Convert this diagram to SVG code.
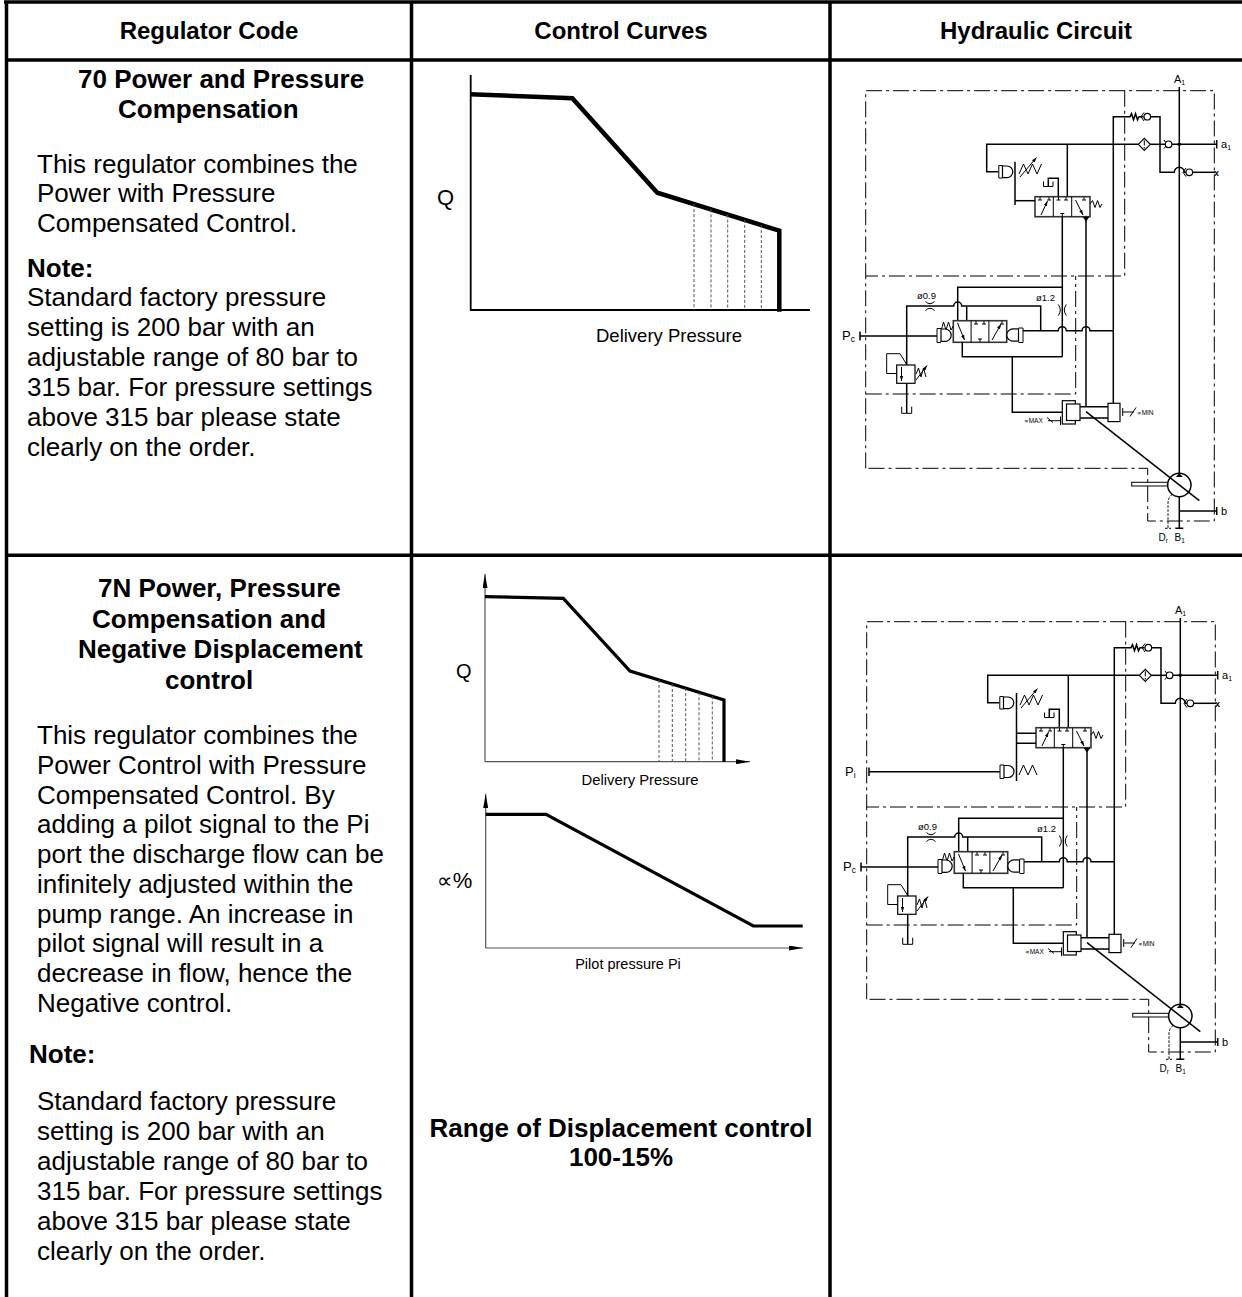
<svg xmlns="http://www.w3.org/2000/svg" width="1242" height="1297" viewBox="0 0 1242 1297">
<style>
text{font-family:"Liberation Sans",Arial,"DejaVu Sans",sans-serif;fill:#000}
.hd{font-size:24px;font-weight:bold;text-anchor:middle}
.tt{font-size:26px;font-weight:bold}
.bd{font-size:26px}
.tb{stroke:#000;stroke-width:3.5;fill:none}
.ax{stroke:#000;stroke-width:1.8;fill:none}
.ax2{stroke:#555;stroke-width:1.2;fill:none}
.cv{stroke:#000;stroke-width:4.5;fill:none}
.cv2{stroke:#000;stroke-width:3.2;fill:none}
.dsh{stroke:#555;stroke-width:1;stroke-dasharray:3 2;fill:none}
.ln{stroke:#000;stroke-width:1.5;fill:none}
.th{stroke:#000;stroke-width:1;fill:none}
.dd{stroke:#000;stroke-width:1;stroke-dasharray:16 4 3 4;fill:none}
.vb{stroke:#333;stroke-width:1.6;fill:#fff}
.wf{stroke:#000;stroke-width:1.2;fill:#fff}
.bk{fill:#000;stroke:none}
.sm{font-size:11px}
.xs{font-size:6.5px}
.lab{font-size:9.5px}
</style>
<defs>
<marker id="arr" viewBox="0 0 14 5" markerWidth="14" markerHeight="5" refX="14" refY="2.5" orient="auto" markerUnits="userSpaceOnUse"><path d="M0,0 L14,2.5 L0,5 Z" fill="#000"/></marker>
<marker id="sa" viewBox="0 0 6 4" markerWidth="5" markerHeight="3.5" refX="6" refY="2" orient="auto" markerUnits="userSpaceOnUse"><path d="M0,0 L6,2 L0,4 Z" fill="#000"/></marker>
<g id="hyd">
 <!-- dash-dot housings -->
 <path class="dd" d="M865.7,468.3 V90.7 H1214.3 V521 H1147.7 V468.3 Z"/>
 <path class="dd" d="M1124.7,90.7 V276 H865.7"/>
 <path class="dd" d="M865.7,394 H1075.7 V276"/>
 <!-- main A1 line -->
 <path class="ln" d="M1179.3,87 V473"/>
 <text class="sm" x="1174" y="83">A<tspan font-size="7" dy="2">1</tspan></text>
 <!-- top check line -->
 <path class="ln" d="M1113.3,403 V116.7 H1130 l1.5,-3 l2,6 l2,-6 l2,6 l1.5,-3 H1143.5"/>
 <path class="th" d="M1144,112.5 L1141,116.7 L1144,121"/>
 <circle class="wf" cx="1147.3" cy="116.7" r="3.3"/>
 <path class="ln" d="M1150.6,116.7 H1160 V172.3 H1174.3 a5,5 0 0 1 10,0 H1186"/>
 <path class="th" d="M1186,168 L1183,172.3 L1186,176.6"/>
 <circle class="wf" cx="1189.3" cy="172.3" r="3.3"/>
 <path class="ln" d="M1192.6,172.3 H1215"/>
 <text x="1214" y="175.5" font-size="9" font-weight="bold">x</text>
 <!-- a1 line -->
 <path class="ln" d="M998.3,171.7 H986.7 V144.3 H1138.3"/>
 <polygon class="wf" points="1138.3,144.3 1144.3,138.3 1150.3,144.3 1144.3,150.3"/>
 <path class="th" d="M1144.3,140.3 V145.5"/>
 <circle class="bk" cx="1144.3" cy="147.7" r="0.8"/>
 <path class="ln" d="M1150.3,144.3 H1165.3"/>
 <path class="th" d="M1164,140 L1167,144.3 L1164,148.6"/>
 <circle class="wf" cx="1168.6" cy="144.3" r="3.3"/>
 <path class="ln" d="M1171.9,144.3 H1216.7 M1216.7,140 V148.6"/>
 <circle class="bk" cx="1179.3" cy="144.3" r="1.8"/>
 <text class="sm" x="1221" y="148">a<tspan font-size="7" dy="2">1</tspan></text>
 <!-- upper piston -->
 <path class="th" d="M1002.5,165.5 H998.8 V178 H1002.5"/>
 <path class="wf" d="M1002.5,166 H1007 A5.8,5.8 0 0 1 1007,177.6 H1002.5 Z"/>
 <polyline class="th" points="1019,174 1023.5,164 1028,174 1032.5,164 1037,174 1041.5,164"/>
 <path class="th" d="M1020,177 L1036.5,157.5" marker-end="url(#sa)"/>
 <!-- tank on valve -->
 <path class="ln" d="M1058.3,196.7 V178.3 H1048.3 V186.3"/>
 <path class="th" d="M1043.5,181.5 V186.5 H1053 V181.5"/>
 <path class="ln" d="M1067.3,144.3 V196.7"/>
 <!-- upper valve -->
 <rect class="vb" x="1035" y="196.7" width="55" height="20"/>
 <path class="th" stroke="#333" d="M1053.3,196.7 V216.7 M1071.7,196.7 V216.7"/>
 <path class="th" d="M1040,197 V200 M1038,200 H1042 M1049,197 V200 M1047,200 H1051 M1058.5,197 V200 M1056.5,200 H1060.5 M1066,197 V200 M1064,200 H1068 M1062.3,216.5 V213.5 M1060.3,213.5 H1064.3 M1084,197 V200 M1082,200 H1086"/>
 <path class="th" d="M1041,215 L1047.5,201" marker-end="url(#sa)"/>
 <path class="th" d="M1075.5,200 L1083,215" marker-end="url(#sa)"/>
 <polyline class="th" points="1090,204 1092.5,200.5 1095,207.5 1097.5,200.5 1100,207.5 1102,204"/>
 <!-- verticals below upper valve -->
 <path class="ln" d="M1062.3,216.7 V356.7 M1086,216.7 V406.7"/>
 <polygon class="bk" points="1082.5,216.7 1089.5,216.7 1086,221.5"/>
 <!-- middle section -->
 <path class="ln" d="M957.7,320.7 V287.3 H1062.3"/>
 <path class="ln" d="M906.7,365 V306 H953.7 a4,4 0 0 1 8,0 H1040.7 V330.7"/>
 <path class="th" d="M925.5,301.5 Q930,306 934.5,301.5 M925.5,310.5 Q930,306 934.5,310.5"/>
 <text class="lab" x="917" y="299">ø0.9</text>
 <path class="ln" d="M966.7,306 V320.7"/>
 <rect class="vb" x="953.3" y="320.7" width="53.4" height="21.6"/>
 <path class="th" stroke="#333" d="M971.1,320.7 V342.3 M988.9,320.7 V342.3"/>
 <path class="th" d="M976,321 V324 M974,324 H978 M984,321 V324 M982,324 H986 M980,342 V339 M978,339 H982 M1002,321 V324 M1000,324 H1004"/>
 <path class="th" d="M957.5,323 L964.5,340" marker-end="url(#sa)"/>
 <path class="th" d="M992,340 L1001,324" marker-end="url(#sa)"/>
 <polyline class="th" points="941.5,329 943.5,322 946,330 948.5,322 951,330 953.3,326"/>
 <path class="th" d="M941,328.5 H937 V342.5 H941"/>
 <path class="wf" d="M941,329 H945 A6.2,6.2 0 0 1 945,341.4 H941 Z"/>
 <path class="ln" d="M860,336 H937 M860,331.5 V340.5"/>
 <text x="842" y="340" font-size="13">P<tspan font-size="8.5" dy="2">c</tspan></text>
 <path class="th" d="M1018.5,328 H1023 V342.5 H1018.5"/>
 <path class="wf" d="M1018.5,328.8 H1013 A6.2,6.2 0 0 0 1013,341.2 H1018.5 Z"/>
 <path class="ln" d="M1023,330.7 H1058.3 a4,4 0 0 1 8,0 H1082 a4,4 0 0 1 8,0 H1113.3"/>
 <path class="th" d="M1058.3,304.5 Q1062.3,310 1058.3,315.5 M1066.3,304.5 Q1062.3,310 1066.3,315.5"/>
 <text class="lab" x="1036" y="301">ø1.2</text>
 <path class="ln" d="M962.3,342.3 V356.7 H1062.3 M1012.3,356.7 V412.3 H1062.3"/>
 <!-- relief valve -->
 <path class="ln" d="M906.7,383.3 V413.3"/>
 <rect class="wf" x="896.7" y="365" width="18.3" height="18.3"/>
 <path class="th" d="M901.5,367 V381" marker-end="url(#sa)"/>
 <path class="th" d="M896.7,373.5 H886.7 V353.7 H900 L907,365"/>
 <polyline class="th" points="916,374 918.5,368 921,377 923.5,368 926,377"/>
 <path class="th" d="M916,380 L927,365.5" marker-end="url(#sa)"/>
 <path class="th" d="M901.7,406.7 V413.3 H911.7 V406.7"/>
 <!-- cylinder -->
 <rect class="wf" x="1062.3" y="400.7" width="13" height="23.3"/>
 <rect class="wf" x="1066.5" y="404" width="13.5" height="16.5"/>
 <path class="ln" d="M1080,406.7 H1108 M1080,418 H1108"/>
 <rect class="wf" x="1108" y="403.3" width="12" height="18.3"/>
 <path class="th" d="M1047,417.5 L1053,422.5 M1048,420.7 H1060.5 M1060.5,416.5 V425"/>
 <text class="xs" x="1024" y="423">∝MAX</text>
 <path class="th" d="M1122.7,408 V416 M1122.7,412 H1134 M1130,416.5 L1136,407.5"/>
 <text class="xs" x="1137" y="414.5">∝MIN</text>
 <path class="ln" d="M1086,411.7 L1199.3,500.7"/>
 <!-- pump -->
 <circle class="ln" cx="1179.3" cy="485" r="11.7"/>
 <polygon class="bk" points="1175.8,477 1182.8,477 1179.3,473.3"/>
 <rect class="th" x="1131.7" y="482.3" width="35.9" height="3.7" fill="#fff"/>
 <path class="ln" d="M1179.3,496.7 V528.3 M1175.3,528.3 H1183.3 M1179.3,511 H1216.7 M1216.7,507 V515"/>
 <text class="sm" x="1221" y="515">b</text>
 <path class="th" stroke-dasharray="2.5 1.5" d="M1172,494.5 Q1168,497.5 1168,503 V528.3 M1165,528.3 H1171"/>
 <text x="1158.5" y="541" font-size="10">D<tspan font-size="6.5" dy="2">r</tspan></text>
 <text x="1174.5" y="541" font-size="10">B<tspan font-size="6.5" dy="2">1</tspan></text>
</g>
</defs>

<!-- table -->
<g id="table">
 <path class="tb" d="M4,2 H1242 M6.5,0.5 V1297 M411.5,2 V1297 M830,2 V1297 M5,60 H1242 M5,555.3 H1242"/>
 <text class="hd" x="209" y="39">Regulator Code</text>
 <text class="hd" x="621" y="39">Control Curves</text>
 <text class="hd" x="1036" y="39">Hydraulic Circuit</text>
</g>

<!-- row 1 text -->
<g id="row1-text">
 <text class="tt" x="78" y="88">70 Power and Pressure</text>
 <text class="tt" x="118" y="118">Compensation</text>
 <text class="bd" x="37" y="172.5">This regulator combines the</text>
 <text class="bd" x="37" y="202">Power with Pressure</text>
 <text class="bd" x="37" y="232">Compensated Control.</text>
 <text class="tt" x="27" y="277">Note:</text>
 <text class="bd" x="27" y="306">Standard factory pressure</text>
 <text class="bd" x="27" y="336">setting is 200 bar with an</text>
 <text class="bd" x="27" y="366">adjustable range of 80 bar to</text>
 <text class="bd" x="27" y="396">315 bar.  For pressure settings</text>
 <text class="bd" x="27" y="426">above 315 bar please state</text>
 <text class="bd" x="27" y="456">clearly on the order.</text>
</g>

<!-- row 1 curve -->
<g id="curve1">
 <path class="ax" d="M470.7,75 V310 M470,310 H810"/>
 <path class="cv" d="M470,94.3 L572.3,98.3 L657.3,192.7 L779.3,230.7 L779.3,311.7"/>
 <path class="dsh" d="M694,204.1 V310 M711,209.4 V310 M727.7,214.6 V310 M744.7,219.9 V310 M761.3,225.1 V310"/>
 <text x="437" y="205" font-size="22">Q</text>
 <text x="669" y="342" font-size="18.5" text-anchor="middle">Delivery Pressure</text>
</g>

<!-- row 1 circuit -->
<g id="circuit1">
 <use href="#hyd"/>
 <path class="ln" stroke-width="2.5" d="M1015,161.7 V205"/>
 <path class="ln" d="M1015,200.7 H1035"/>
</g>

<!-- row 2 text -->
<g id="row2-text">
 <text class="tt" x="98" y="597">7N Power, Pressure</text>
 <text class="tt" x="92" y="627.5">Compensation and</text>
 <text class="tt" x="78" y="658">Negative Displacement</text>
 <text class="tt" x="165" y="688.5">control</text>
 <text class="bd" x="37" y="744">This regulator combines the</text>
 <text class="bd" x="37" y="773.8">Power Control with Pressure</text>
 <text class="bd" x="37" y="803.5">Compensated Control. By</text>
 <text class="bd" x="37" y="833.3">adding a pilot signal to the Pi</text>
 <text class="bd" x="37" y="863">port the discharge flow can be</text>
 <text class="bd" x="37" y="892.8">infinitely adjusted within the</text>
 <text class="bd" x="37" y="922.5">pump range. An increase in</text>
 <text class="bd" x="37" y="952.3">pilot signal will result in a</text>
 <text class="bd" x="37" y="982">decrease in flow, hence the</text>
 <text class="bd" x="37" y="1011.8">Negative control.</text>
 <text class="tt" x="29" y="1063">Note:</text>
 <text class="bd" x="37" y="1110">Standard factory pressure</text>
 <text class="bd" x="37" y="1140">setting is 200 bar with an</text>
 <text class="bd" x="37" y="1170">adjustable range of 80 bar to</text>
 <text class="bd" x="37" y="1200">315 bar.  For pressure settings</text>
 <text class="bd" x="37" y="1230">above 315 bar please state</text>
 <text class="bd" x="37" y="1260">clearly on the order.</text>
</g>

<!-- row 2 curves -->
<g id="curve2a">
 <path class="ax2" d="M485,761.7 V574" marker-end="url(#arr)"/>
 <path class="ax2" d="M485,761.7 H750" marker-end="url(#arr)"/>
 <path class="cv2" d="M485,596.7 L563.3,598.3 L630,671 L724,700 L724,761.7"/>
 <path class="dsh" d="M659,679.9 V761.7 M672.3,684 V761.7 M685.7,688.2 V761.7 M699,692.3 V761.7 M712.3,696.4 V761.7"/>
 <text x="456" y="678" font-size="20">Q</text>
 <text x="640" y="785" font-size="14.8" text-anchor="middle">Delivery Pressure</text>
</g>
<g id="curve2b">
 <path class="ax2" d="M485.7,948 V794" marker-end="url(#arr)"/>
 <path class="ax2" d="M485.7,948 H803" marker-end="url(#arr)"/>
 <path class="cv2" d="M485.7,814.3 L546,814.3 L753.3,926 L802.7,926"/>
 <text x="437" y="888" font-size="22">∝%</text>
 <text x="628" y="969" font-size="14.5" text-anchor="middle">Pilot pressure Pi</text>
</g>
<g id="range-note">
 <text class="tt" x="621" y="1137" text-anchor="middle">Range of Displacement control</text>
 <text class="tt" x="621" y="1166" text-anchor="middle">100-15%</text>
</g>

<!-- row 2 circuit -->
<g id="circuit2">
 <use href="#hyd" transform="translate(1,531)"/>
 <path class="ln" stroke-width="2.5" d="M1016.5,693 V781"/>
 <path class="ln" d="M1016.5,733.3 H1036 M1016.5,743.3 H1036"/>
 <path class="ln" d="M869,771.7 H1000 M869,767.5 V776"/>
 <path class="th" d="M1004,765 H1000 V778.5 H1004"/>
 <path class="wf" d="M1004,765.5 H1008 A6,6 0 0 1 1008,777.5 H1004 Z"/>
 <polyline class="th" points="1019,775 1023.5,765 1028,775 1032.5,765 1037,775"/>
 <text x="845" y="776" font-size="13">P<tspan font-size="8.5" dy="2">i</tspan></text>
</g>
</svg>
